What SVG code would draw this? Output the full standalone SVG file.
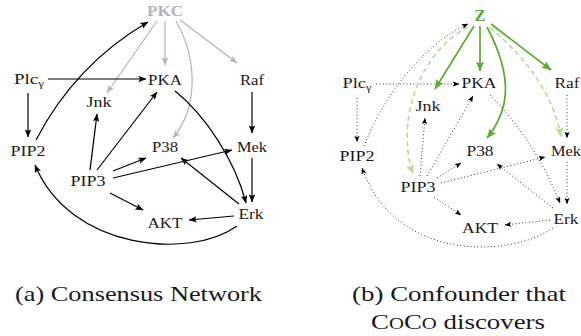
<svg xmlns="http://www.w3.org/2000/svg" width="581" height="336" viewBox="0 0 581 336">
  <style>
    .lbl { font-family: "Liberation Serif", "DejaVu Serif", serif; font-size: 15.5px; fill: #1a1a1a; text-anchor: middle; }
    .pkc { font-family: "Liberation Serif", "DejaVu Serif", serif; font-weight: bold; font-size: 15.5px; fill: #b3b3c2; text-anchor: middle; }
    .z { font-family: "Liberation Serif", "DejaVu Serif", serif; font-weight: bold; font-size: 16px; fill: #5aab32; text-anchor: middle; }
    .cap { font-family: "Liberation Serif", "DejaVu Serif", serif; font-size: 22px; fill: #1a1a1a; }
    .e { fill: none; stroke: #000; stroke-width: 1.2; marker-end: url(#ah); }
    .g { fill: none; stroke: #b3b3c2; stroke-width: 1.2; marker-end: url(#ahg); }
    .d { fill: none; stroke: #333; stroke-width: 1; stroke-dasharray: 1 2.4; marker-end: url(#ahs); }
    .zs { fill: none; stroke: #5aab32; stroke-width: 1.7; marker-end: url(#ahz); }
    .zd { fill: none; stroke: #b7dc9e; stroke-width: 1.7; stroke-dasharray: 5 3.5; marker-end: url(#ahzl); }
  </style>
  <defs>
    <marker id="ah" viewBox="0 0 10 8" refX="9.5" refY="4" markerWidth="8" markerHeight="6.4" markerUnits="userSpaceOnUse" orient="auto">
      <path d="M0,0 L10,4 L0,8 L2,4 z" fill="#000"/>
    </marker>
    <marker id="ahg" viewBox="0 0 10 8" refX="9.5" refY="4" markerWidth="8" markerHeight="6.4" markerUnits="userSpaceOnUse" orient="auto">
      <path d="M0,0 L10,4 L0,8 L2,4 z" fill="#b3b3c2"/>
    </marker>
    <marker id="ahs" viewBox="0 0 10 8" refX="9.5" refY="4" markerWidth="6.5" markerHeight="5.2" markerUnits="userSpaceOnUse" orient="auto">
      <path d="M0,0 L10,4 L0,8 L2,4 z" fill="#000"/>
    </marker>
    <marker id="ahz" viewBox="0 0 10 8" refX="9.5" refY="4" markerWidth="10" markerHeight="8" markerUnits="userSpaceOnUse" orient="auto">
      <path d="M0,0 L10,4 L0,8 L2,4 z" fill="#5aab32"/>
    </marker>
    <marker id="ahzl" viewBox="0 0 10 8" refX="9.5" refY="4" markerWidth="10" markerHeight="8" markerUnits="userSpaceOnUse" orient="auto">
      <path d="M0,0 L10,4 L0,8 L2,4 z" fill="#b7dc9e"/>
    </marker>
  </defs>
  <rect width="581" height="336" fill="#fff"/>

  <!-- (a) consensus network: edges -->
  <g id="edges-a">
    <path class="g" d="M157,21 L107,93"/>
    <path class="g" d="M165,21 L165,65"/>
    <path class="g" d="M176,21 C198,60 198,108 173,138"/>
    <path class="g" d="M180,20 L237,63"/>
    <path class="e" d="M48,79 L146,79"/>
    <path class="e" d="M28,93 L28,137"/>
    <path class="e" d="M36,140 C62,90 100,50 148,22"/>
    <path class="e" d="M90,170 L97,114"/>
    <path class="e" d="M97,170 L157,92"/>
    <path class="e" d="M113,171 L146,158"/>
    <path class="e" d="M113,178 L232,150"/>
    <path class="e" d="M110,193 L143,210"/>
    <path class="e" d="M175,91 C205,115 235,160 246,203"/>
    <path class="e" d="M252,92 L252,133"/>
    <path class="e" d="M252,158 L252,202"/>
    <path class="e" d="M239,204 L181,158"/>
    <path class="e" d="M234,216 L189,220"/>
    <path class="e" d="M237,226 C190,260 70,250 35,165"/>
  </g>

  <!-- (a) nodes -->
  <g id="a-PKC"><text class="pkc" x="165" y="16" textLength="36" lengthAdjust="spacingAndGlyphs">PKC</text></g>
  <g id="a-Plc"><text class="lbl" x="29" y="84" textLength="30" lengthAdjust="spacingAndGlyphs">Plc<tspan font-size="10.5" dy="3">γ</tspan></text></g>
  <g id="a-PKA"><text class="lbl" x="165" y="85" textLength="34" lengthAdjust="spacingAndGlyphs">PKA</text></g>
  <g id="a-Raf"><text class="lbl" x="252" y="85" textLength="24" lengthAdjust="spacingAndGlyphs">Raf</text></g>
  <g id="a-Jnk"><text class="lbl" x="99" y="107" textLength="25" lengthAdjust="spacingAndGlyphs">Jnk</text></g>
  <g id="a-PIP2"><text class="lbl" x="28" y="156" textLength="35" lengthAdjust="spacingAndGlyphs">PIP2</text></g>
  <g id="a-P38"><text class="lbl" x="165" y="152" textLength="26" lengthAdjust="spacingAndGlyphs">P38</text></g>
  <g id="a-Mek"><text class="lbl" x="252" y="152" textLength="30" lengthAdjust="spacingAndGlyphs">Mek</text></g>
  <g id="a-PIP3"><text class="lbl" x="88" y="186" textLength="35" lengthAdjust="spacingAndGlyphs">PIP3</text></g>
  <g id="a-AKT"><text class="lbl" x="165" y="228" textLength="35" lengthAdjust="spacingAndGlyphs">AKT</text></g>
  <g id="a-Erk"><text class="lbl" x="251" y="219" textLength="25" lengthAdjust="spacingAndGlyphs">Erk</text></g>

  <!-- (b) network with confounder Z: edges -->
  <g id="edges-b">
    <path class="d" d="M376,84 L459,84"/>
    <path class="d" d="M357,98 L357,142"/>
    <path class="d" d="M364,146 C382,100 420,46 468,24"/>
    <path class="d" d="M420,176 L425,118"/>
    <path class="d" d="M427,176 L473,96"/>
    <path class="d" d="M437,178 L461,163"/>
    <path class="d" d="M441,183 L545,157"/>
    <path class="d" d="M434,197 L461,215"/>
    <path class="d" d="M490,95 C520,125 545,165 560,203"/>
    <path class="d" d="M567,95 L567,138"/>
    <path class="d" d="M567,162 L567,204"/>
    <path class="d" d="M553,208 L497,164"/>
    <path class="d" d="M550,220 L505,225"/>
    <path class="d" d="M553,228 C510,258 395,262 362,168"/>
    <path class="zs" d="M474,26 L435,89"/>
    <path class="zs" d="M480,26 L480,71"/>
    <path class="zs" d="M487,27 C515,80 508,112 487,138"/>
    <path class="zs" d="M491,24 L551,70"/>
    <path class="zd" d="M468,27 C420,52 395,120 413,174"/>
    <path class="zd" d="M490,28 C530,60 555,100 561,137"/>
  </g>

  <!-- (b) nodes -->
  <g id="b-Z"><text class="z" x="480" y="21" textLength="11" lengthAdjust="spacingAndGlyphs">Z</text></g>
  <g id="b-Plc"><text class="lbl" x="357" y="88" textLength="29" lengthAdjust="spacingAndGlyphs">Plc<tspan font-size="10.5" dy="3">γ</tspan></text></g>
  <g id="b-PKA"><text class="lbl" x="479" y="88" textLength="35" lengthAdjust="spacingAndGlyphs">PKA</text></g>
  <g id="b-Raf"><text class="lbl" x="567" y="88" textLength="25" lengthAdjust="spacingAndGlyphs">Raf</text></g>
  <g id="b-Jnk"><text class="lbl" x="428" y="111" textLength="25" lengthAdjust="spacingAndGlyphs">Jnk</text></g>
  <g id="b-PIP2"><text class="lbl" x="357" y="161" textLength="35" lengthAdjust="spacingAndGlyphs">PIP2</text></g>
  <g id="b-P38"><text class="lbl" x="480" y="156" textLength="27" lengthAdjust="spacingAndGlyphs">P38</text></g>
  <g id="b-Mek"><text class="lbl" x="566" y="156" textLength="30" lengthAdjust="spacingAndGlyphs">Mek</text></g>
  <g id="b-PIP3"><text class="lbl" x="418" y="192" textLength="35" lengthAdjust="spacingAndGlyphs">PIP3</text></g>
  <g id="b-AKT"><text class="lbl" x="480" y="233" textLength="36" lengthAdjust="spacingAndGlyphs">AKT</text></g>
  <g id="b-Erk"><text class="lbl" x="566" y="224" textLength="25" lengthAdjust="spacingAndGlyphs">Erk</text></g>

  <!-- captions -->
  <text class="cap" x="15" y="301" textLength="247" lengthAdjust="spacingAndGlyphs">(a) Consensus Network</text>
  <text class="cap" x="352" y="301" textLength="214" lengthAdjust="spacingAndGlyphs">(b) Confounder that</text>
  <text class="cap" x="371" y="329" textLength="174" lengthAdjust="spacingAndGlyphs">C<tspan font-size="17">O</tspan>C<tspan font-size="17">O</tspan> discovers</text>
</svg>
